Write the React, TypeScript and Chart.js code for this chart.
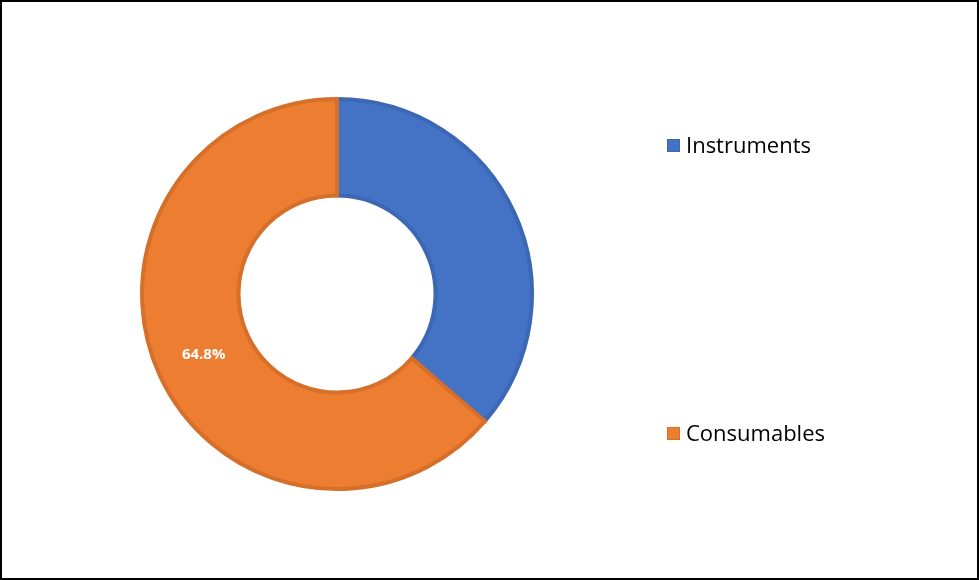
import React, { useEffect, useRef } from "react";
import { Chart, registerables } from "chart.js";

Chart.register(...registerables);

const categories = ["Instruments", "Consumables"];
const shares = [36.3, 63.7];
const sliceLabels = [null, "64.8%"];
const fillColors = ["#4472C4", "#ED7D31"];
const borderColors = ["#3B67B5", "#D56F2A"];

const legendFont = "22px 'Open Sans'";

const labelPlugin = {
  id: "sliceLabels",
  afterDatasetsDraw(chart: any) {
    const ctx = chart.ctx;
    const meta = chart.getDatasetMeta(0);
    ctx.save();
    ctx.fillStyle = "#FFFFFF";
    ctx.font = "bold 15px 'Open Sans'";
    ctx.textAlign = "center";
    ctx.textBaseline = "middle";
    meta.data.forEach((arc: any, i: number) => {
      const lbl = sliceLabels[i];
      if (!lbl) return;
      const p = arc.tooltipPosition();
      ctx.fillText(lbl, p.x, p.y);
    });
    ctx.restore();
  },
};

const legendPlugin = {
  id: "sideLegend",
  afterDraw(chart: any) {
    const ctx = chart.ctx;
    const ys = [146, 434];
    ctx.save();
    ctx.font = legendFont;
    ctx.textBaseline = "middle";
    categories.forEach((c, i) => {
      ctx.fillStyle = fillColors[i];
      ctx.fillRect(667, ys[i] - 7, 13, 13);
      ctx.strokeStyle = borderColors[i];
      ctx.lineWidth = 1;
      ctx.strokeRect(667.5, ys[i] - 6.5, 12, 12);
      ctx.fillStyle = "#000000";
      ctx.fillText(c, 686, ys[i] + 1);
    });
    ctx.restore();
  },
};

export default function App() {
  const ref = useRef<HTMLCanvasElement>(null);
  useEffect(() => {
    document.body.style.margin = "0";
    const chart = new Chart(ref.current!, {
      type: "doughnut",
      data: {
        labels: categories,
        datasets: [
          {
            data: shares,
            backgroundColor: fillColors,
            borderColor: borderColors,
            borderWidth: 4,
            borderJoinStyle: "miter",
          } as any,
        ],
      },
      options: {
        animation: false,
        responsive: false,
        cutout: "50.5%",
        layout: { padding: { left: 140, right: 445, top: 97, bottom: 89 } },
        plugins: {
          legend: { display: false },
          tooltip: { enabled: false },
        },
      },
      plugins: [labelPlugin, legendPlugin],
    });
    return () => chart.destroy();
  }, []);
  return (
    <div
      style={{
        position: "absolute",
        left: 0,
        top: 0,
        width: 979,
        height: 580,
        boxSizing: "border-box",
        border: "2px solid #000",
        background: "#fff",
        overflow: "hidden",
      }}
    >
      <canvas
        ref={ref}
        width={979}
        height={580}
        style={{ position: "absolute", left: -2, top: -2, width: 979, height: 580 }}
      />
    </div>
  );
}
